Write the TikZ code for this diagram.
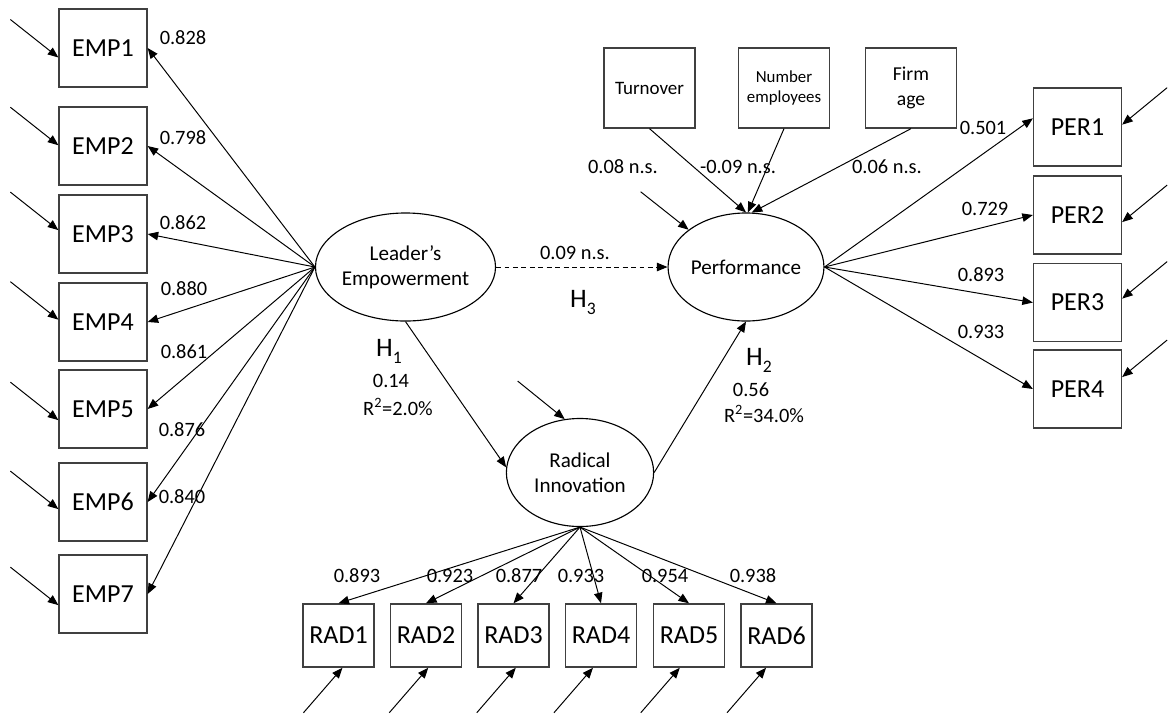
\documentclass[tikz,border=0pt]{standalone}
\usepackage{fontspec}
\setmainfont{Carlito}
\usepackage{tikz}
\usetikzlibrary{
  shapes.geometric,
  arrows.meta,
  positioning,
  calc
}
\newcommand{\hsub}[1]{\raisebox{-5pt}{\fontsize{12.5}{14}\selectfont #1}}

\begin{document}
\begin{tikzpicture}[
  x=0.025cm, y=-0.025cm,
  indicator/.style={rectangle, draw=black!75, line width=0.9pt, minimum width=2.2cm, minimum height=1.95cm, inner sep=0pt, font=\fontsize{18.5}{22}\selectfont},
  radbox/.style={indicator, minimum width=1.78cm, minimum height=1.58cm},
  control/.style={rectangle, draw=black!75, line width=0.9pt, minimum width=2.27cm, minimum height=2cm, inner sep=0pt, align=center},
  latent/.style={ellipse, draw, line width=0.8pt, minimum width=3.68cm, minimum height=2.7cm, inner sep=0pt, align=center, font=\fontsize{15}{18}\selectfont},
  link/.style={-{Triangle[length=7.5pt,width=6pt]}, line width=0.7pt},
  coef/.style={font=\fontsize{14.5}{17}\selectfont, inner sep=0pt},
  hyp/.style={font=\fontsize{19}{22}\selectfont, inner sep=0pt, anchor=base}
]
  \useasboundingbox (0,0) rectangle (1168,713);

  % latent constructs
  \node[latent] (lead) at (405.5,267) {Leader’s\\Empowerment};
  \node[latent] (perf) at (746,267) {Performance};
  \node[latent] (innov) at (580,472.5) {Radical\\Innovation};

  % empowerment items
  \node[indicator] (emp1) at (103,48) {EMP1};
  \node[indicator] (emp2) at (103,146) {EMP2};
  \node[indicator] (emp3) at (103,234) {EMP3};
  \node[indicator] (emp4) at (103,322) {EMP4};
  \node[indicator] (emp5) at (103,409) {EMP5};
  \node[indicator] (emp6) at (103,502) {EMP6};
  \node[indicator] (emp7) at (103,594) {EMP7};

  % performance items
  \node[indicator] (per1) at (1077.5,127) {PER1};
  \node[indicator] (per2) at (1077.5,215) {PER2};
  \node[indicator] (per3) at (1077.5,302.5) {PER3};
  \node[indicator] (per4) at (1077.5,389) {PER4};

  % innovation items
  \node[radbox] (rad1) at (338.5,635.5) {RAD1};
  \node[radbox] (rad2) at (426,635.5) {RAD2};
  \node[radbox] (rad3) at (513.5,635.5) {RAD3};
  \node[radbox] (rad4) at (601,635.5) {RAD4};
  \node[radbox] (rad5) at (689,635.5) {RAD5};
  \node[radbox] (rad6) at (776.5,635.5) {RAD6};

  % controls
  \node[control, font=\fontsize{13.5}{16}\selectfont] (turn) at (649.5,88) {Turnover};
  \node[control, font=\fontsize{12}{14.5}\selectfont] (numb) at (784,88) {Number\\employees};
  \node[control, font=\fontsize{14}{17.8}\selectfont] (firm) at (911,88) {Firm\\age};

  % loadings of empowerment
  \draw[link] (lead.west) -- (emp1.east);
  \draw[link] (lead.west) -- (emp2.east);
  \draw[link] (lead.west) -- (emp3.east);
  \draw[link] (lead.west) -- (emp4.east);
  \draw[link] (lead.west) -- (emp5.east);
  \draw[link] (lead.west) -- (emp6.east);
  \draw[link] (lead.west) -- (emp7.east);
  \node[coef] (c-emp1) at (183,38) {0.828};
  \node[coef] (c-emp2) at (183,138) {0.798};
  \node[coef] (c-emp3) at (183,223) {0.862};
  \node[coef] (c-emp4) at (184,289) {0.880};
  \node[coef] (c-emp5) at (184,352) {0.861};
  \node[coef] (c-emp6) at (182,430) {0.876};
  \node[coef] (c-emp7) at (182,497) {0.840};

  % loadings of performance
  \draw[link] (perf.east) -- (per1.169);
  \draw[link] (perf.east) -- (per2.west);
  \draw[link] (perf.east) -- (per3.west);
  \draw[link] (perf.east) -- (per4.west);
  \node[coef] (c-per1) at (983,128) {0.501};
  \node[coef] (c-per2) at (985,209) {0.729};
  \node[coef] (c-per3) at (981,275) {0.893};
  \node[coef] (c-per4) at (981,332) {0.933};

  % loadings of innovation
  \draw[link] (innov.south) -- (rad1.north);
  \draw[link] (innov.south) -- (rad2.north);
  \draw[link] (innov.south) -- (rad3.north);
  \draw[link] (innov.south) -- (rad4.north);
  \draw[link] (innov.south) -- (rad5.north);
  \draw[link] (innov.south) -- (rad6.north);
  \node[coef] (c-rad1) at (357,576) {0.893};
  \node[coef] (c-rad2) at (450,576) {0.923};
  \node[coef] (c-rad3) at (519,576) {0.877};
  \node[coef] (c-rad4) at (581,576) {0.933};
  \node[coef] (c-rad5) at (665,576) {0.954};
  \node[coef] (c-rad6) at (753,576) {0.938};

  % error terms
  \draw[link] ($(emp1.192)+(-48,-38)$) -- (emp1.192);
  \draw[link] ($(emp2.179)+(-48,-38)$) -- (emp2.179);
  \draw[link] ($(emp3.175)+(-48,-38)$) -- (emp3.175);
  \draw[link] ($(emp4.177)+(-48,-38)$) -- (emp4.177);
  \draw[link] ($(emp5.194)+(-48,-38)$) -- (emp5.194);
  \draw[link] ($(emp6.189)+(-48,-38)$) -- (emp6.189);
  \draw[link] ($(emp7.194)+(-48,-38)$) -- (emp7.194);
  \draw[link] ($(per1.3)+(45,-37)$) -- (per1.3);
  \draw[link] ($(per2.351)+(45,-37)$) -- (per2.351);
  \draw[link] ($(per3.5)+(45,-37)$) -- (per3.5);
  \draw[link] ($(per4.15)+(45,-37)$) -- (per4.15);
  \draw[link] ($(rad1.277)+(-39,45)$) -- (rad1.277);
  \draw[link] ($(rad2.274)+(-39,45)$) -- (rad2.274);
  \draw[link] ($(rad3.274)+(-39,45)$) -- (rad3.274);
  \draw[link] ($(rad4.256)+(-39,45)$) -- (rad4.256);
  \draw[link] ($(rad5.254)+(-39,45)$) -- (rad5.254);
  \draw[link] ($(rad6.252)+(-39,45)$) -- (rad6.252);
  \draw[link] ($(perf.147)+(-48,-38)$) -- (perf.147);
  \draw[link] ($(innov.106)+(-47,-38)$) -- (innov.106);

  % controls on performance
  \draw[link] (turn.south) -- (perf.north);
  \draw[link] (numb.south) -- (perf.88);
  \draw[link] (firm.south) -- (perf.84);
  \node[coef] (c-turn) at (623,167) {0.08 n.s.};
  \node[coef] (c-numb) at (738,167) {-0.09 n.s.};
  \node[coef] (c-firm) at (887,167) {0.06 n.s.};

  % structural paths
  \draw[link, dash pattern=on 3.5pt off 2.5pt] (lead.east) -- (perf.west);
  \node[coef] (c-h3) at (575,253) {0.09 n.s.};
  \node[hyp] (h3) at (583,307) {H\hsub{3}};

  \draw[link] (lead.south) -- (innov.176);
  \node[hyp] (h1) at (389,356) {H\hsub{1}};
  \node[coef] (c-h1) at (391,381) {0.14};
  \node[coef, anchor=base] (r-h1) at (398,415) {R\textsuperscript{2}=2.0\%};

  \draw[link] (innov.east) -- (perf.south);
  \node[hyp] (h2) at (759,365) {H\hsub{2}};
  \node[coef] (c-h2) at (751,390) {0.56};
  \node[coef, anchor=base] (r-h2) at (764,422) {R\textsuperscript{2}=34.0\%};
\end{tikzpicture}
\end{document}
